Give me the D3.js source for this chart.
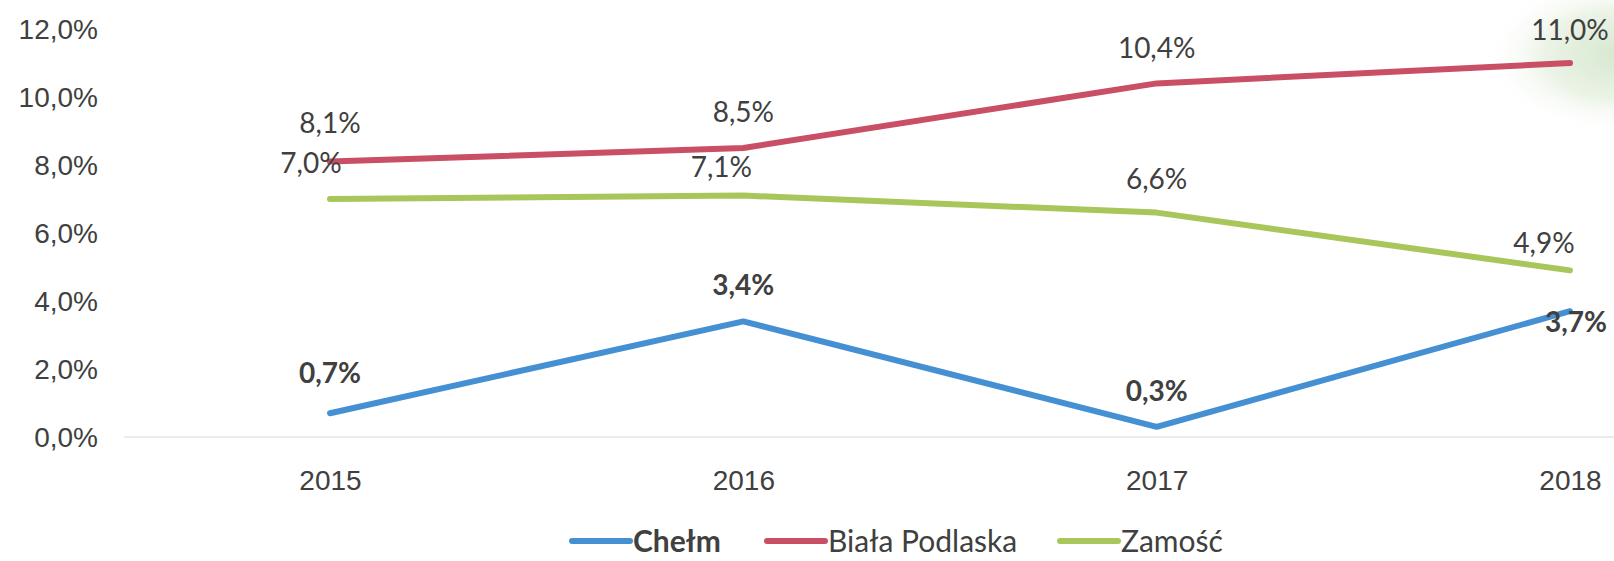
<!DOCTYPE html>
<html>
<head>
<meta charset="utf-8">
<script src="https://cdn.jsdelivr.net/npm/d3@7"></script>
<style>
  html, body { margin: 0; padding: 0; background: #fff; }
  svg { display: block; font-family: Lato, "Open Sans", sans-serif; }
  .lbl { font-size: 28px; fill: #404040; }
  .leg { font-size: 30px; fill: #404040; }
</style>
</head>
<body>
<svg id="chart" width="1614" height="561"></svg>
<script>
// data
const years = ["2015", "2016", "2017", "2018"];
const seriesNames = ["Chełm", "Biała Podlaska", "Zamość"];
const chelm = [0.7, 3.4, 0.3, 3.7];
const bialaPodlaska = [8.1, 8.5, 10.4, 11.0];
const zamosc = [7.0, 7.1, 6.6, 4.9];
const yTicks = [0, 2, 4, 6, 8, 10, 12];

const colors = ["#4590d3", "#c94f64", "#a9c65b"];

const svg = d3.select("#chart");
const W = 1614, H = 561;

// soft green smudge in the top-right corner of the scan
const defs = svg.append("defs");
const grad = defs.append("radialGradient").attr("id", "corner");
grad.append("stop").attr("offset", "0%").attr("stop-color", "#d6e8cf");
grad.append("stop").attr("offset", "55%").attr("stop-color", "#ebf3e6");
grad.append("stop").attr("offset", "100%").attr("stop-color", "#ffffff").attr("stop-opacity", 0);
svg.append("ellipse")
    .attr("cx", W + 5).attr("cy", 55)
    .attr("rx", 135).attr("ry", 80)
    .attr("fill", "url(#corner)");

const x = d3.scalePoint().domain(years).range([330, 1570]);
const y = d3.scaleLinear().domain([0, 12]).range([437, 29]);

const pl = d3.formatLocale({ decimal: ",", thousands: " ", grouping: [3], currency: ["", ""] });
const pct = pl.format(".1f");

// y axis labels only
const yAxis = svg.append("g")
    .attr("transform", "translate(98,0)")
    .call(d3.axisLeft(y).tickValues(yTicks).tickSize(0).tickPadding(0).tickFormat(d => pct(d) + "%"));
yAxis.select(".domain").remove();
yAxis.selectAll("text").attr("class", "lbl").attr("font-family", null).attr("font-size", null).attr("dy", "0.35em");

// baseline
svg.append("line")
    .attr("x1", 124).attr("x2", W)
    .attr("y1", y(0)).attr("y2", y(0))
    .attr("stroke", "#e4e4e4").attr("stroke-width", 1.5);

// x axis labels
const xAxis = svg.append("g")
    .attr("transform", `translate(0,${y(0)})`)
    .call(d3.axisBottom(x).tickSize(0));
xAxis.select(".domain").remove();
xAxis.selectAll("text").attr("class", "lbl").attr("font-family", null).attr("font-size", null)
    .attr("y", 43).attr("dy", "0.35em");

const series = [
    { name: seriesNames[0], values: chelm, color: colors[0], bold: true },
    { name: seriesNames[1], values: bialaPodlaska, color: colors[1], bold: false },
    { name: seriesNames[2], values: zamosc, color: colors[2], bold: false }
];

// label nudges, like the hand-moved labels in the original
const nudge = [
    [[0, -40], [0, -36], [0, -36], [6, 11]],
    [[0, -38], [0, -36], [0, -35], [0, -33]],
    [[-19, -36], [-22, -28], [0, -33], [-26, -27]]
];

const line = d3.line()
    .x((d, i) => x(years[i]))
    .y(d => y(d));

// draw green, red, then blue on top
[2, 1, 0].forEach(si => {
    const s = series[si];
    svg.append("path")
        .datum(s.values)
        .attr("d", line)
        .attr("fill", "none")
        .attr("stroke", s.color)
        .attr("stroke-width", 6)
        .attr("stroke-linecap", "round")
        .attr("stroke-linejoin", "round");
});

series.forEach((s, si) => {
    svg.append("g")
        .selectAll("text")
        .data(s.values)
        .join("text")
        .attr("class", "lbl")
        .attr("text-anchor", "middle")
        .attr("dy", "0.35em")
        .attr("x", (d, i) => x(years[i]) + nudge[si][i][0])
        .attr("y", (d, i) => y(d) + nudge[si][i][1])
        .attr("font-weight", s.bold ? "bold" : null)
        .text(d => pct(d) + "%");
});

// legend
const legendX = [572, 767, 1060];
const legend = svg.append("g").attr("transform", "translate(0,541)");
series.forEach((s, si) => {
    const g = legend.append("g").attr("transform", `translate(${legendX[si]},0)`);
    g.append("line")
        .attr("x1", 0).attr("x2", 58)
        .attr("stroke", s.color).attr("stroke-width", 6)
        .attr("stroke-linecap", "round");
    g.append("text")
        .attr("class", "leg")
        .attr("x", 61)
        .attr("dy", "0.35em")
        .attr("font-weight", s.bold ? "bold" : null)
        .text(s.name);
});
</script>
</body>
</html>
